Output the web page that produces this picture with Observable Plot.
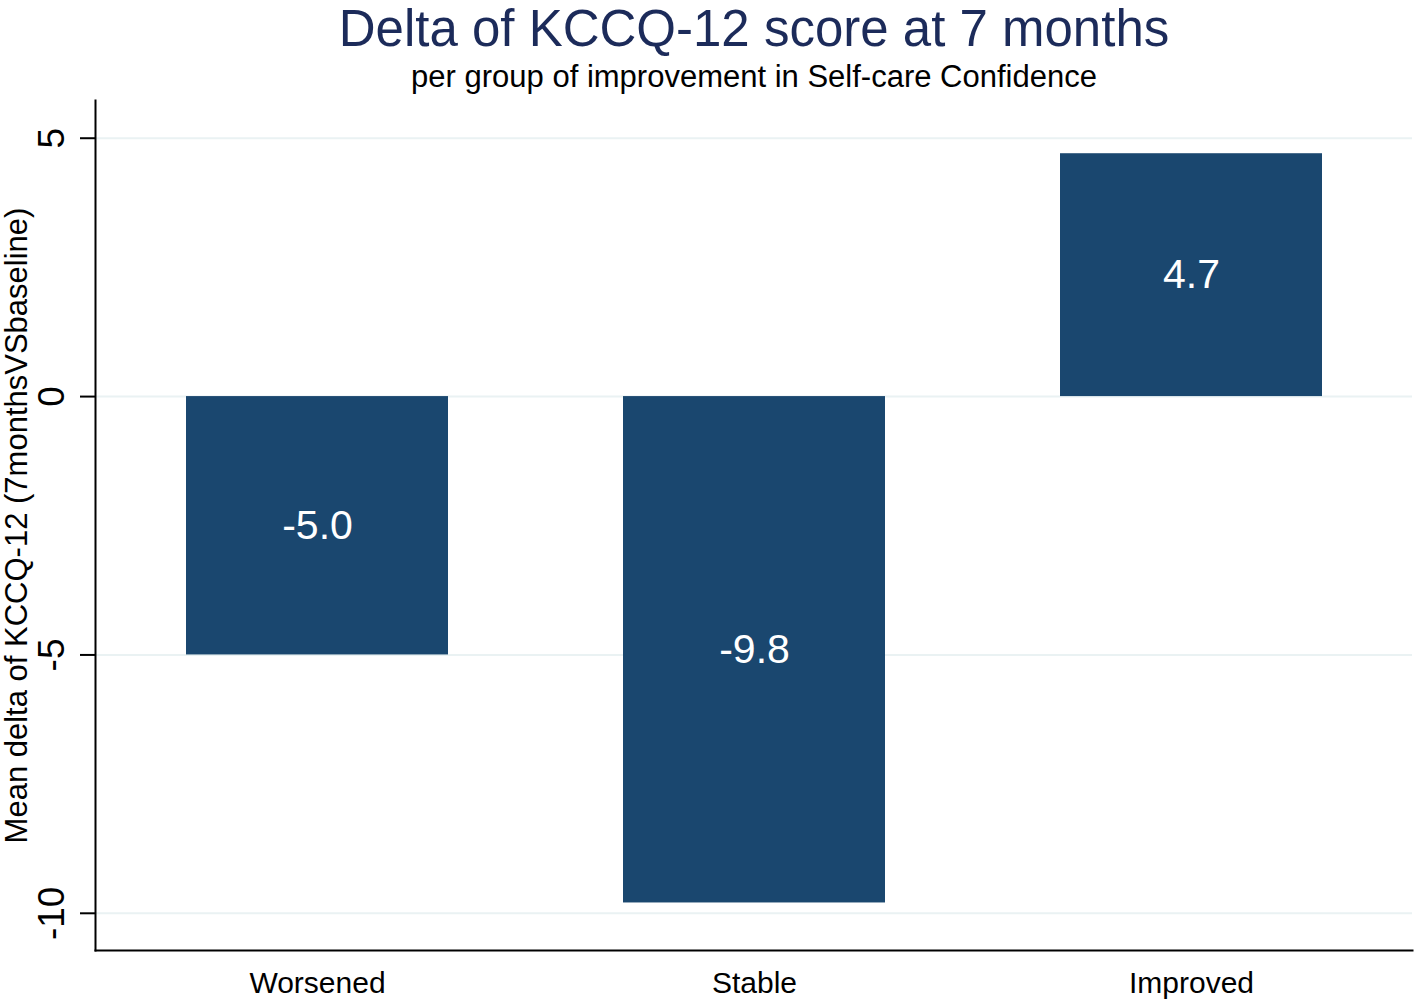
<!DOCTYPE html>
<html>
<head>
<meta charset="utf-8">
<script src="https://cdn.jsdelivr.net/npm/d3@7"></script>
<script src="https://cdn.jsdelivr.net/npm/@observablehq/plot@0.6"></script>
<style>
  html, body { margin: 0; padding: 0; background: #fff; }
  #chart svg { display: block; }
</style>
</head>
<body>
<div id="chart"></div>
<script>
const groups = ["Worsened", "Stable", "Improved"];
const meanDelta = [-5.0, -9.8, 4.7];
const yTicks = [5, 0, -5, -10];
const title = "Delta of KCCQ-12 score at 7 months";
const subtitle = "per group of improvement in Self-care Confidence";
const yLabel = "Mean delta of KCCQ-12 (7monthsVSbaseline)";

const data = groups.map((g, i) => ({group: g, value: meanDelta[i]}));
const font = "Liberation Sans, Arial, Helvetica, sans-serif";
const yMin = -10.72, yMax = 5.73;

const chart = Plot.plot({
  width: 1416,
  height: 1004,
  marginLeft: 95,
  marginRight: 4,
  marginTop: 100,
  marginBottom: 54,
  style: {fontFamily: font, background: "#fff", color: "#000"},
  x: {domain: groups, range: [98, 1410], paddingInner: 0.4, paddingOuter: 0.2, label: null},
  y: {domain: [yMin, yMax], label: null},
  marks: [
    Plot.ruleY(yTicks, {stroke: "#eaf2f3", strokeWidth: 2}),
    Plot.barY(data, {x: "group", y: "value", fill: "#1a476f"}),
    Plot.text(data, {x: "group", y: d => d.value / 2, text: d => d.value.toFixed(1), fill: "#fff", fontSize: 41, lineAnchor: "middle"}),
    Plot.axisX({tickSize: 0, tickPadding: 21, fontSize: 30, label: null, fill: "#000"}),
    Plot.axisY({ticks: yTicks, tickSize: 15, tickFormat: () => "", label: null, strokeWidth: 2, stroke: "#000"}),
    Plot.text(yTicks, {y: d => d, frameAnchor: "left", dx: -43, rotate: -90, text: d => String(d), fontSize: 37, textAnchor: "middle", lineAnchor: "middle", fill: "#000"}),
    Plot.frame({anchor: "left", stroke: "#000", strokeWidth: 2}),
    Plot.frame({anchor: "bottom", stroke: "#000", strokeWidth: 2}),
    Plot.text([yLabel], {frameAnchor: "left", dx: -78, rotate: -90, fontSize: 31, textAnchor: "middle", lineAnchor: "middle", fill: "#000"}),
    Plot.text([title], {frameAnchor: "top", dy: -71, fontSize: 51, fill: "#1c2b5a", lineAnchor: "middle", textAnchor: "middle"}),
    Plot.text([subtitle], {frameAnchor: "top", dy: -23, fontSize: 31, fill: "#000", lineAnchor: "middle", textAnchor: "middle"})
  ]
});
document.getElementById("chart").append(chart);
</script>
</body>
</html>
